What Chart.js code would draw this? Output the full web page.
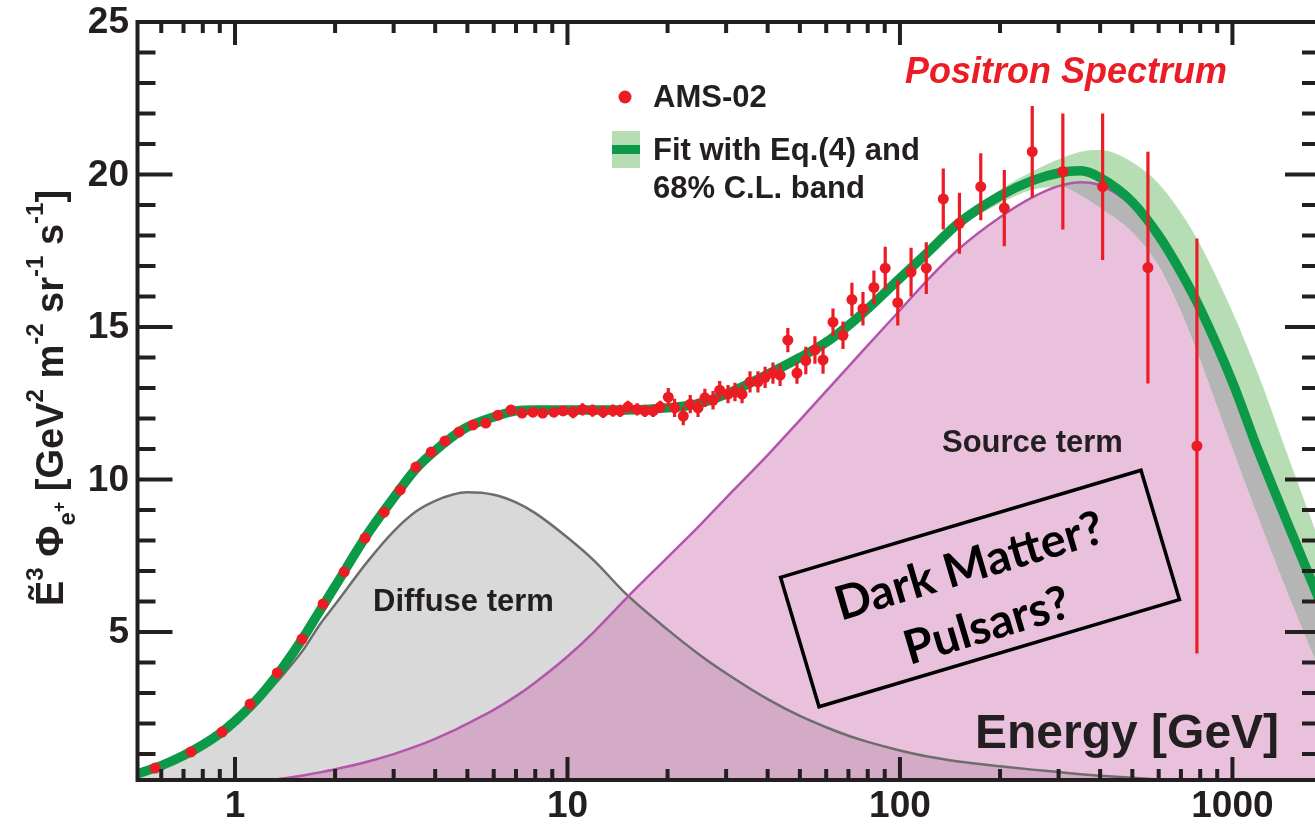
<!DOCTYPE html>
<html>
<head>
<meta charset="utf-8">
<script src="https://cdn.jsdelivr.net/npm/chart.js@4.4.0/dist/chart.umd.min.js"></script>
<style>
html, body { margin: 0; padding: 0; background: #fff; overflow: hidden; }
canvas { display: block; }
</style>
</head>
<body>
<canvas id="context" width="1330" height="825"></canvas>
<script>
// energy grid (GeV) for the fitted curves
const energy = [0.5, 0.6, 0.7, 0.8, 0.9, 1, 1.2, 1.4, 1.6, 1.8, 2, 2.5, 3, 3.5, 4, 4.5, 5, 6, 7, 8,
  10, 12, 15, 20, 25, 30, 40, 50, 60, 70, 80, 100, 120, 150, 200, 250, 300, 350, 400, 500,
  600, 700, 800, 1000, 1200, 1500, 1850];
const fitTotal = [0.33, 0.62, 0.95, 1.3, 1.67, 2.08, 2.95, 3.88, 4.8, 5.7, 6.5, 8.2, 9.4, 10.35, 10.95, 11.4, 11.72, 12.05, 12.25, 12.28,
  12.28, 12.28, 12.28, 12.35, 12.5, 12.8, 13.45, 14.0, 14.5, 15.05, 15.6, 16.6, 17.4, 18.4, 19.3, 19.8, 20.05, 20.12, 19.9, 19.1,
  18.0, 16.8, 15.6, 13.2, 10.9, 8.3, 5.9];
const bandHi = [0.43, 0.72, 1.05, 1.4, 1.77, 2.18, 3.05, 3.98, 4.9, 5.8, 6.6, 8.3, 9.5, 10.45, 11.05, 11.5, 11.82, 12.15, 12.35, 12.38,
  12.38, 12.38, 12.38, 12.45, 12.6, 12.9, 13.55, 14.1, 14.6, 15.15, 15.7, 16.72, 17.5, 18.5, 19.5, 20.1, 20.5, 20.75, 20.8, 20.4,
  19.7, 18.75, 17.7, 15.5, 13.4, 10.5, 7.8];
const bandLo = [0.23, 0.52, 0.85, 1.2, 1.57, 1.98, 2.85, 3.78, 4.7, 5.6, 6.4, 8.1, 9.3, 10.25, 10.85, 11.3, 11.62, 11.95, 12.15, 12.18,
  12.18, 12.18, 12.18, 12.25, 12.4, 12.7, 13.35, 13.9, 14.4, 14.95, 15.5, 16.5, 17.3, 18.25, 19.05, 19.5, 19.6, 19.5, 19.2, 18.3,
  17.1, 15.8, 14.5, 12.0, 9.7, 7.1, 4.8];
const diffuse = [0.33, 0.6, 0.92, 1.27, 1.62, 2.02, 2.82, 3.62, 4.4, 5.25, 5.9, 7.3, 8.3, 8.95, 9.3, 9.5, 9.58, 9.5, 9.25, 8.9,
  8.1, 7.35, 6.25, 5.08, 4.25, 3.65, 2.8, 2.25, 1.88, 1.6, 1.4, 1.12, 0.93, 0.76, 0.6, 0.49, 0.41, 0.34, 0.29, 0.22,
  0.17, 0.13, 0.1, 0.07, 0.05, 0.03, 0.02];
const source = [0, 0, 0, 0, 0, 0.02, 0.1, 0.2, 0.3, 0.4, 0.5, 0.75, 1.0, 1.25, 1.5, 1.75, 2.0, 2.45, 2.9, 3.35,
  4.2, 5.0, 6.1, 7.45, 8.5, 9.4, 10.8, 11.95, 12.9, 13.7, 14.4, 15.55, 16.5, 17.55, 18.6, 19.25, 19.62, 19.75, 19.65, 18.95,
  17.85, 16.65, 15.45, 13.1, 10.85, 8.25, 5.85];
// top of the pink fill (drops below the source line at high energy)
const pinkEdge = [0, 0, 0, 0, 0, 0.02, 0.1, 0.2, 0.3, 0.4, 0.5, 0.75, 1.0, 1.25, 1.5, 1.75, 2.0, 2.45, 2.9, 3.35,
  4.2, 5.0, 6.1, 7.45, 8.5, 9.4, 10.8, 11.95, 12.9, 13.7, 14.4, 15.55, 16.5, 17.55, 18.6, 19.25, 19.62, 19.3, 18.9, 18.1,
  17.0, 15.5, 13.9, 11.0, 8.7, 6.0, 3.6];
// top of the grey band sitting on the pink fill
const grayTop = [0, 0, 0, 0, 0, 0.02, 0.1, 0.2, 0.3, 0.4, 0.5, 0.75, 1.0, 1.25, 1.5, 1.75, 2.0, 2.45, 2.9, 3.35,
  4.2, 5.0, 6.1, 7.45, 8.5, 9.4, 10.8, 11.95, 12.9, 13.7, 14.4, 15.55, 16.5, 17.55, 18.6, 19.25, 19.62, 19.75, 19.65, 18.95,
  17.85, 16.65, 15.45, 13.1, 10.85, 8.25, 5.85];

// AMS-02 points
const amsEnergy = [0.575, 0.737, 0.914, 1.11, 1.34, 1.59, 1.84, 2.13, 2.46, 2.81, 3.14, 3.5, 3.89, 4.28, 4.72, 5.2, 5.68, 6.18, 6.76, 7.3,
  7.87, 8.42, 9.1, 9.7, 10.4, 11.1, 11.9, 12.8, 13.7, 14.4, 15.2, 16.2, 17.1, 18.1, 19.0, 20.1, 21.0, 22.3, 23.4, 24.7,
  25.9, 27.4, 28.7, 30.4, 31.9, 33.5, 35.4, 37.4, 39.3, 41.5, 43.6, 46.0, 49.0, 52.1, 55.5, 58.7, 62.9, 67.4, 71.7, 77.4,
  83.5, 90.3, 98.5, 108, 120, 135, 151, 175, 206, 250, 309, 407, 557, 782];
const amsFlux = [0.54, 1.07, 1.72, 2.64, 3.66, 4.77, 5.92, 6.97, 8.08, 8.93, 9.66, 10.41, 10.9, 11.26, 11.56, 11.79, 11.85, 12.11, 12.28, 12.18,
  12.21, 12.18, 12.21, 12.25, 12.21, 12.3, 12.26, 12.22, 12.26, 12.25, 12.38, 12.3, 12.25, 12.25, 12.38, 12.7, 12.35, 12.08, 12.47, 12.35,
  12.68, 12.6, 12.93, 12.8, 12.87, 12.8, 13.2, 13.2, 13.35, 13.49, 13.42, 14.57, 13.49, 13.9, 14.25, 13.92, 15.16, 14.73, 15.9, 15.6,
  16.3, 16.93, 15.8, 16.8, 16.93, 19.2, 18.4, 19.6, 18.9, 20.75, 20.1, 19.6, 16.95, 11.1];
const amsError = [0.05, 0.05, 0.05, 0.05, 0.05, 0.05, 0.05, 0.05, 0.05, 0.05, 0.05, 0.05, 0.05,
  0.12, 0.12, 0.12, 0.12, 0.12, 0.12, 0.12, 0.12, 0.12, 0.12, 0.12,
  0.2, 0.2, 0.2, 0.2, 0.2, 0.2, 0.2, 0.2, 0.2, 0.2, 0.2,
  0.3, 0.3, 0.3, 0.3, 0.3, 0.3, 0.3, 0.3, 0.3, 0.3, 0.3,
  0.35, 0.35, 0.35, 0.35, 0.35, 0.4, 0.35,
  0.45, 0.45, 0.45, 0.45, 0.45,
  0.55, 0.55, 0.55,
  0.7, 0.75, 0.8, 0.85, 1.0, 1.0, 1.1, 1.25, 1.5, 1.9, 2.4, 3.8, 6.8];

const xTickLabels = [1, 10, 100, 1000];
const yTickLabels = [5, 10, 15, 20, 25];

const RED = '#ec1c24', GREEN = '#0c9a48', INK = '#231f20';
const SANS = '"Liberation Sans", Arial, sans-serif';
const NONE = 'rgba(0,0,0,0)';

const pts = arr => energy.map((e, i) => ({x: e, y: arr[i]}));

function drawYTitle(ctx) {
  const parts = [
    ['\u1EBC', 38, 0], ['3', 24, -20], [' \u03A6', 38, 0], ['e', 24, 12], ['+', 18, 2],
    [' [GeV', 38, 0], ['2', 24, -20], [' m', 38, 0], ['-2', 24, -20], [' sr', 38, 0],
    ['-1', 24, -20], [' s', 38, 0], ['-1', 24, -20], [']', 38, 0]
  ];
  let w = 0;
  parts.forEach(p => { ctx.font = 'bold ' + p[1] + 'px ' + SANS; w += ctx.measureText(p[0]).width; });
  ctx.save();
  ctx.translate(63, 398 + w / 2);
  ctx.rotate(-Math.PI / 2);
  ctx.fillStyle = INK;
  ctx.textAlign = 'left';
  ctx.textBaseline = 'alphabetic';
  let cx = 0;
  parts.forEach(p => {
    ctx.font = 'bold ' + p[1] + 'px ' + SANS;
    ctx.fillText(p[0], cx, p[2]);
    cx += ctx.measureText(p[0]).width;
  });
  ctx.restore();
}

const decor = {
  id: 'decor',
  afterDatasetsDraw(chart) {
    const {ctx, chartArea: a, scales: {x, y}} = chart;
    ctx.save();
    ctx.beginPath();
    ctx.rect(a.left, a.top, a.right - a.left, a.bottom - a.top);
    ctx.clip();
    ctx.strokeStyle = RED;
    ctx.lineWidth = 3.2;
    amsEnergy.forEach((e, i) => {
      const px = x.getPixelForValue(e);
      ctx.beginPath();
      ctx.moveTo(px, y.getPixelForValue(amsFlux[i] - amsError[i]));
      ctx.lineTo(px, y.getPixelForValue(amsFlux[i] + amsError[i]));
      ctx.stroke();
    });
    ctx.restore();
  },
  afterDraw(chart) {
    const {ctx, chartArea: a, scales: {x, y}} = chart;
    ctx.save();
    ctx.strokeStyle = INK;
    ctx.lineWidth = 4;
    // ticks on all four sides, pointing inwards
    for (let v = 1; v < 25; v++) {
      const py = y.getPixelForValue(v);
      const len = v % 5 === 0 ? 35 : 18;
      ctx.beginPath();
      ctx.moveTo(a.left, py); ctx.lineTo(a.left + len, py);
      ctx.moveTo(a.right, py); ctx.lineTo(a.right - len, py);
      ctx.stroke();
    }
    [0.1, 1, 10, 100, 1000].forEach(d => {
      for (let k = 1; k <= 9; k++) {
        const v = k * d;
        if (v <= x.min || v >= x.max) continue;
        const px = x.getPixelForValue(v);
        const len = k === 1 ? 23 : 11;
        ctx.beginPath();
        ctx.moveTo(px, a.bottom); ctx.lineTo(px, a.bottom - len);
        ctx.moveTo(px, a.top); ctx.lineTo(px, a.top + len);
        ctx.stroke();
      }
    });
    ctx.strokeRect(a.left, a.top, a.right - a.left, a.bottom - a.top);

    // tick labels
    ctx.fillStyle = INK;
    ctx.font = 'bold 37px ' + SANS;
    ctx.textAlign = 'right';
    ctx.textBaseline = 'middle';
    yTickLabels.forEach(v => ctx.fillText(String(v), 129, y.getPixelForValue(v) + 1));
    ctx.textAlign = 'center';
    xTickLabels.forEach(v => ctx.fillText(String(v), x.getPixelForValue(v), 807));

    drawYTitle(ctx);

    // annotations
    ctx.textAlign = 'left';
    ctx.textBaseline = 'alphabetic';
    ctx.fillStyle = INK;
    ctx.font = 'bold 31px ' + SANS;
    ctx.fillText('Diffuse term', 373, 611);
    ctx.fillText('Source term', 942, 452);
    ctx.font = 'bold 48px ' + SANS;
    ctx.fillText('Energy [GeV]', 975, 748);

    ctx.fillStyle = RED;
    ctx.font = 'italic bold 36px ' + SANS;
    ctx.fillText('Positron Spectrum', 905, 83);

    // legend
    ctx.beginPath();
    ctx.arc(625, 97, 6.5, 0, Math.PI * 2);
    ctx.fill();
    ctx.fillStyle = '#b7ddb5';
    ctx.fillRect(612, 131, 28, 37);
    ctx.fillStyle = GREEN;
    ctx.fillRect(612, 145, 28, 9);
    ctx.fillStyle = INK;
    ctx.font = 'bold 31px ' + SANS;
    ctx.fillText('AMS-02', 653, 107);
    ctx.fillText('Fit with Eq.(4) and', 653, 160);
    ctx.fillText('68% C.L. band', 653, 198);

    // tilted box
    ctx.translate(980, 588.5);
    ctx.rotate(-16.55 * Math.PI / 180);
    ctx.strokeStyle = '#000';
    ctx.lineWidth = 3.5;
    ctx.strokeRect(-188, -67.5, 376, 135);
    ctx.fillStyle = '#000';
    ctx.font = 'bold 47px Lato, "Open Sans", sans-serif';
    ctx.textAlign = 'center';
    ctx.textBaseline = 'middle';
    ctx.fillText('Dark Matter?', -4, -24);
    ctx.fillText('Pulsars?', -4, 38);
    ctx.restore();
  }
};

const common = {pointRadius: 0, clip: 0, cubicInterpolationMode: 'monotone'};

new Chart(document.getElementById('context'), {
  type: 'line',
  data: {
    datasets: [
      {...common, label: 'band low', data: pts(bandLo), borderColor: NONE, borderWidth: 1, fill: false, order: 10},
      {...common, label: '68% C.L. band', data: pts(bandHi), borderColor: NONE, borderWidth: 1, fill: 0, backgroundColor: '#b7ddb5', order: 9},
      {...common, label: 'diffuse fill', data: pts(diffuse), borderColor: NONE, borderWidth: 1, fill: 'origin', backgroundColor: '#d9d9d9', order: 8},
      {...common, label: 'source fill', data: pts(pinkEdge), borderColor: NONE, borderWidth: 1, fill: 'origin', backgroundColor: 'rgba(203,107,172,0.42)', order: 7},
      {...common, label: 'grey band', data: pts(grayTop), borderColor: NONE, borderWidth: 1, fill: 3, backgroundColor: '#b5b5b5', order: 6},
      {...common, label: 'Diffuse term', data: pts(diffuse), borderColor: '#6d6d6d', borderWidth: 2.5, fill: false, order: 5},
      {...common, label: 'Source term', data: pts(source), borderColor: '#b455ac', borderWidth: 2.5, fill: false, order: 4},
      {...common, label: 'Fit with Eq.(4)', data: pts(fitTotal), borderColor: GREEN, borderWidth: 9.5, fill: false, order: 1},
      {label: 'AMS-02', data: amsEnergy.map((e, i) => ({x: e, y: amsFlux[i]})), showLine: false,
        pointRadius: 5.5, pointBackgroundColor: RED, pointBorderWidth: 0, pointBorderColor: RED, clip: 0, order: 0}
    ]
  },
  options: {
    responsive: false,
    animation: false,
    devicePixelRatio: 1,
    layout: {padding: {left: 137.5, right: 10, top: 22, bottom: 45}},
    plugins: {legend: {display: false}, tooltip: {enabled: false}},
    scales: {
      x: {type: 'logarithmic', min: 0.509, max: 1834, display: false},
      y: {type: 'linear', min: 0.15, max: 25, display: false}
    }
  },
  plugins: [decor]
});
</script>
</body>
</html>
